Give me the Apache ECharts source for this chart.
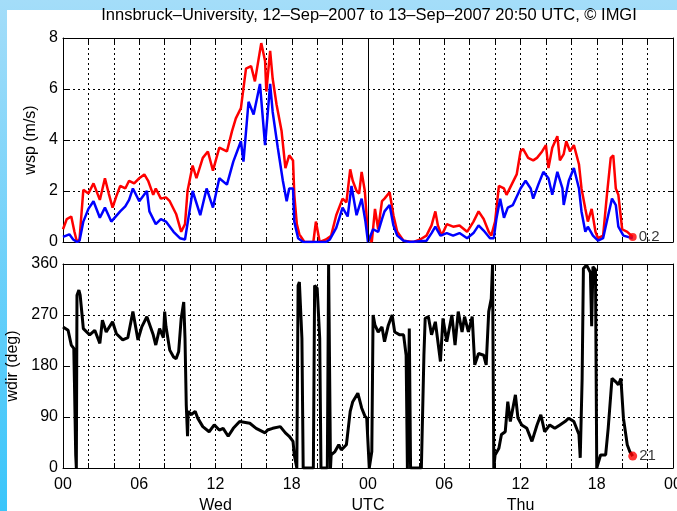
<!DOCTYPE html>
<html>
<head>
<meta charset="utf-8">
<script src="https://cdn.jsdelivr.net/npm/echarts@6/dist/echarts.min.js"></script>
<style>
  html, body { margin: 0; padding: 0; width: 677px; height: 511px; overflow: hidden;
    background: linear-gradient(#a4ddf9, #3ac5fa); }
  #paper { position: absolute; left: 7px; top: 10px; width: 670px; height: 501px; background: #fff; }
  #chart { position: absolute; left: 0; top: 0; width: 677px; height: 511px; }
</style>
</head>
<body>
<div id="paper"></div>
<div id="chart"></div>
<script>
// hours since 12-Sep-2007 00 UTC

// gust (red)
const gustHours = [0, 0.3, 0.65, 0.9, 1.1, 1.3, 1.6, 2.0, 2.4, 2.9, 3.3, 3.6, 3.9, 4.2, 4.5, 4.9, 5.2, 5.6, 6.0, 6.4,
  6.7, 7.1, 7.3, 7.7, 8.1, 8.4, 8.9, 9.3, 9.6, 9.8, 10.2, 10.5, 11.0, 11.4, 11.8, 12.3, 12.9, 13.3, 13.6, 14.0,
  14.4, 14.8, 15.1, 15.4, 15.6, 15.9, 16.0, 16.3, 16.5, 16.8, 17.2, 17.5, 17.8, 18.1, 18.2, 18.4, 18.6, 19.0, 19.7, 19.9,
  20.2, 20.7, 21.1, 21.5, 22.0, 22.3, 22.6, 22.8, 23.1, 23.3, 23.5, 23.75, 24.0, 24.3, 24.55, 24.8, 25.1, 25.3, 25.7, 26.0,
  26.3, 26.8, 27.6, 28.1, 28.6, 29.0, 29.3, 29.5, 29.8, 30.2, 30.7, 31.2, 31.8, 32.3, 32.7, 33.1, 33.5, 33.7, 34.0, 34.3,
  34.7, 34.9, 35.3, 35.7, 36.0, 36.2, 36.6, 37.0, 37.3, 37.7, 38.0, 38.2, 38.5, 38.9, 39.1, 39.4, 39.6, 39.9, 40.2, 40.6,
  40.8, 41.1, 41.3, 41.6, 41.9, 42.1, 42.5, 42.8, 43.1, 43.3, 43.5, 43.7, 44.0, 44.4, 44.83];
const gust = [0.5, 0.9, 1.0, 0.4, 0.0, 0.1, 2.05, 1.9, 2.3, 1.65, 2.5, 1.9, 1.35, 1.8, 2.2, 2.1, 2.4, 2.3, 2.5, 2.65,
  2.4, 1.85, 2.1, 1.7, 1.75, 1.6, 1.1, 0.4, 0.7, 2.0, 3.0, 2.5, 3.3, 3.55, 2.8, 3.7, 3.55, 4.35, 4.85, 5.25,
  6.8, 6.9, 6.3, 7.2, 7.8, 7.1, 5.9, 7.5, 6.4, 5.4, 4.35, 2.9, 3.4, 3.2, 1.85, 0.7, 0.3, 0, 0, 0.8,
  0, 0.1, 0.25, 1.05, 1.7, 1.55, 2.85, 2.4, 2.0, 1.9, 2.75, 2.0, 0.25, 0, 1.3, 0.5, 1.6, 1.7, 1.95, 1.05,
  0.4, 0.05, 0, 0.1, 0.25, 0.65, 1.2, 0.65, 0.25, 0.7, 0.6, 0.65, 0.4, 0.8, 1.2, 0.9, 0.4, 0.25, 0.8, 2.2,
  2.1, 1.85, 2.25, 2.65, 3.55, 3.65, 3.3, 3.2, 3.3, 3.55, 3.8, 2.9, 3.7, 4.15, 3.2, 3.45, 3.95, 3.55, 3.8, 3.05,
  2.1, 1.3, 0.8, 1.3, 0.4, 0.15, 0.25, 1.85, 3.3, 3.4, 2.1, 1.85, 0.5, 0.4, 0.2];

// mean wind speed (blue)
const meanHours = [0, 0.5, 0.8, 1.1, 1.3, 1.6, 2.0, 2.4, 2.9, 3.3, 3.8, 4.5, 4.9, 5.2, 5.5, 6.0, 6.6, 6.8, 7.3, 7.7,
  8.1, 8.7, 9.2, 9.6, 10.0, 10.2, 10.8, 11.3, 11.8, 12.3, 12.9, 13.4, 14.0, 14.2, 14.6, 15.0, 15.5, 15.9, 16.3, 16.5,
  16.9, 17.3, 17.6, 17.8, 18.1, 18.2, 18.5, 18.9, 20.7, 21.0, 21.5, 22.0, 22.4, 22.7, 23.1, 23.5, 23.8, 24.0, 24.4, 24.8,
  25.1, 25.3, 25.7, 26.0, 26.3, 26.8, 27.3, 28.6, 29.0, 29.3, 29.7, 30.2, 30.7, 31.2, 31.8, 32.3, 32.7, 33.1, 33.6, 33.9,
  34.1, 34.4, 34.7, 35.0, 35.4, 36.0, 36.4, 36.8, 37.0, 37.4, 37.8, 38.2, 38.5, 38.9, 39.3, 39.4, 39.8, 40.2, 40.6, 40.8,
  41.1, 41.3, 41.7, 42.1, 42.5, 42.9, 43.2, 43.5, 43.7, 44.1, 44.83];
const mean = [0.2, 0.3, 0.1, 0, 0.05, 0.8, 1.3, 1.6, 0.95, 1.35, 0.8, 1.2, 1.4, 1.65, 2.1, 1.6, 2.0, 1.2, 0.7, 0.9,
  0.8, 0.4, 0.15, 0.1, 1.35, 2.0, 1.05, 2.1, 1.35, 2.5, 2.25, 3.15, 3.95, 3.15, 5.5, 5.0, 6.2, 3.8, 6.2, 5.1,
  3.7, 2.4, 1.6, 2.1, 2.1, 0.8, 0.15, 0, 0, 0.1, 0.55, 1.35, 1.0, 2.2, 1.05, 1.7, 0.8, 0, 0.5, 0.4,
  0.9, 1.2, 1.45, 0.65, 0.25, 0.05, 0, 0.05, 0.35, 0.6, 0.25, 0.35, 0.25, 0.35, 0.15, 0.35, 0.65, 0.45, 0.15, 0.15,
  0.9, 1.7, 0.95, 1.35, 1.45, 2.1, 2.4, 2.1, 1.7, 2.25, 2.75, 2.5, 1.85, 2.75, 2.1, 1.45, 2.4, 2.9, 2.1, 1.2,
  0.4, 0.6, 0.25, 0.05, 0.15, 1.05, 1.7, 1.45, 0.6, 0.25, 0.15];

// wind direction (black)
const dirHours = [0, 0.4, 0.65, 0.85, 0.9, 1.0, 1.05, 1.1, 1.25, 1.35, 1.5, 1.6, 2.1, 2.5, 2.9, 3.1, 3.4, 3.9, 4.2, 4.7,
  5.1, 5.5, 5.9, 6.2, 6.6, 7.1, 7.3, 7.6, 7.9, 8.0, 8.1, 8.4, 8.7, 8.9, 9.1, 9.3, 9.5, 9.6, 9.7, 9.8,
  9.85, 10.1, 10.4, 10.6, 11.0, 11.5, 11.9, 12.3, 12.6, 13.0, 13.4, 13.9, 14.7, 15.2, 15.9, 16.1, 16.5, 17.1, 17.5, 17.8,
  18.1, 18.2, 18.4, 18.5, 18.6, 18.8, 18.9, 19.7, 19.8, 20.0, 20.2, 20.3, 20.8, 20.9, 21.0, 21.05, 21.1, 21.4, 21.7, 21.9,
  22.3, 22.6, 22.8, 23.2, 23.5, 23.75, 23.9, 24.1, 24.3, 24.4, 24.55, 24.8, 25.1, 25.3, 25.6, 25.9, 26.1, 26.5, 26.8, 27.0,
  27.1, 27.25, 27.35, 28.2, 28.4, 28.5, 28.75, 29.0, 29.3, 29.7, 29.9, 30.2, 30.6, 30.85, 31.1, 31.4, 31.6, 31.9, 32.2, 32.4,
  32.7, 33.1, 33.3, 33.5, 33.7, 33.8, 33.9, 34.0, 34.3, 34.5, 34.8, 35.0, 35.2, 35.6, 35.8, 36.1, 36.5, 36.9, 37.3, 37.6,
  37.9, 38.3, 38.7, 39.1, 39.5, 39.8, 40.2, 40.6, 40.7, 40.85, 40.95, 41.2, 41.5, 41.6, 41.7, 41.9, 42.0, 42.3, 42.7, 42.9,
  43.2, 43.5, 43.7, 43.9, 44.1, 44.4, 44.6, 44.83];
const dir = [249, 243, 217, 211, 152, 23, 0, 305, 314, 305, 270, 246, 235, 243, 220, 261, 240, 258, 237, 226,
  230, 276, 226, 249, 267, 235, 217, 246, 230, 276, 250, 208, 196, 193, 205, 264, 293, 229, 111, 56,
  100, 94, 100, 88, 73, 64, 76, 67, 70, 56, 70, 82, 79, 70, 62, 67, 70, 73, 62, 56,
  47, 23, 0, 322, 328, 229, 0, 0, 322, 317, 229, 0, 0, 360, 360, 0, 23, 29, 41, 32,
  41, 100, 117, 132, 106, 92, 88, 0, 29, 270, 252, 240, 249, 223, 252, 270, 240, 235, 235, 199,
  0, 246, 0, 0, 199, 264, 267, 235, 258, 188, 264, 223, 270, 217, 276, 240, 267, 240, 267, 182,
  202, 199, 182, 276, 299, 358, 0, 23, 35, 59, 64, 117, 82, 129, 88, 76, 70, 47, 76, 94,
  64, 76, 70, 76, 82, 88, 82, 59, 18, 158, 352, 358, 345, 250, 355, 350, 0, 23, 23, 70,
  158, 152, 147, 158, 88, 41, 29, 21];

const lastGust = 0.2;
const lastDir = 21;

const FONT = "Liberation Sans";
const dotted = { color: "#000", width: 1, type: [2, 3] };

function hourLabel(v) {
  if (v % 6 !== 0) return "";
  const h = String(v % 24).padStart(2, "0");
  if (v === 12) return h + "\nWed";
  if (v === 24) return h + "\nUTC";
  if (v === 36) return h + "\nThu";
  return h;
}

function xAxisFor(grid, pos, labels) {
  return {
    type: "value", gridIndex: grid, position: pos, min: 0, max: 48, interval: 2,
    axisLine: { show: true, onZero: false, lineStyle: { color: "#000", width: 1 } },
    axisTick: { show: true, inside: true, length: 5, lineStyle: { color: "#000" } },
    splitLine: { show: pos === "bottom", lineStyle: dotted },
    axisLabel: {
      show: labels, formatter: hourLabel, color: "#000", fontFamily: FONT, fontSize: 16,
      lineHeight: 21, margin: 6, showMinLabel: true, showMaxLabel: true, hideOverlap: false,
    },
  };
}

function yAxisFor(grid, pos, max, interval, name, gap) {
  const left = pos === "left";
  return {
    type: "value", gridIndex: grid, position: pos, min: 0, max: max, interval: interval,
    name: left ? name : "", nameLocation: "middle", nameGap: gap,
    nameTextStyle: { color: "#000", fontFamily: FONT, fontSize: 16 },
    axisLine: { show: true, onZero: false, lineStyle: { color: "#000", width: 1 } },
    axisTick: { show: true, inside: true, length: 5, lineStyle: { color: "#000" } },
    splitLine: { show: left, lineStyle: dotted },
    axisLabel: { show: left, color: "#000", fontFamily: FONT, fontSize: 16, margin: 5 },
  };
}

const pairs = (hs, vs) => hs.map((h, i) => [h, vs[i]]);

const midnight = {
  silent: true, symbol: "none", label: { show: false },
  lineStyle: { color: "#000", width: 1, type: "solid" },
  data: [{ xAxis: 24 }],
};

const chart = echarts.init(document.getElementById("chart"), null, { renderer: "canvas" });

chart.setOption({
  animation: false,
  backgroundColor: "transparent",
  graphic: [{
    type: "text", x: 369, y: 7,
    style: {
      text: "Innsbruck\u2013University, 12\u2013Sep\u20132007 to 13\u2013Sep\u20132007 20:50 UTC, \u00a9 IMGI",
      fill: "#000", font: "16.5px " + FONT, align: "center", textAlign: "center",
    },
  }],
  grid: [
    { left: 63, right: 4, top: 38, height: 204, outerBoundsMode: "none" },
    { left: 63, right: 4, top: 264, height: 204, outerBoundsMode: "none" },
  ],
  xAxis: [
    xAxisFor(0, "bottom", false),
    xAxisFor(0, "top", false),
    xAxisFor(1, "bottom", true),
    xAxisFor(1, "top", false),
  ],
  yAxis: [
    yAxisFor(0, "left", 8, 2, "wsp (m/s)", 13),
    yAxisFor(0, "right", 8, 2, "", 0),
    yAxisFor(1, "left", 360, 90, "wdir (deg)", 33),
    yAxisFor(1, "right", 360, 90, "", 0),
  ],
  series: [
    {
      type: "line", xAxisIndex: 0, yAxisIndex: 0, data: pairs(gustHours, gust),
      showSymbol: false, lineStyle: { color: "#ff0000", width: 2.5 }, markLine: midnight, z: 3,
    },
    {
      type: "line", xAxisIndex: 0, yAxisIndex: 0, data: pairs(meanHours, mean),
      showSymbol: false, lineStyle: { color: "#0000ff", width: 2.5 }, z: 4,
    },
    {
      type: "scatter", xAxisIndex: 0, yAxisIndex: 0, data: [[gustHours[gustHours.length - 1], lastGust]],
      symbolSize: 8, itemStyle: { color: "#ff0000" }, z: 5,
      label: { show: true, position: "right", distance: 2, formatter: String(lastGust), color: "#000", fontFamily: FONT, fontSize: 15 },
    },
    {
      type: "line", xAxisIndex: 2, yAxisIndex: 2, data: pairs(dirHours, dir),
      showSymbol: false, lineStyle: { color: "#000", width: 3 }, markLine: midnight, z: 3,
    },
    {
      type: "scatter", xAxisIndex: 2, yAxisIndex: 2, data: [[dirHours[dirHours.length - 1], lastDir]],
      symbolSize: 9, itemStyle: { color: "#ff0000" }, z: 5,
      label: { show: true, position: "right", distance: 2, formatter: String(lastDir), color: "#000", fontFamily: FONT, fontSize: 15 },
    },
  ],
});
</script>
</body>
</html>
